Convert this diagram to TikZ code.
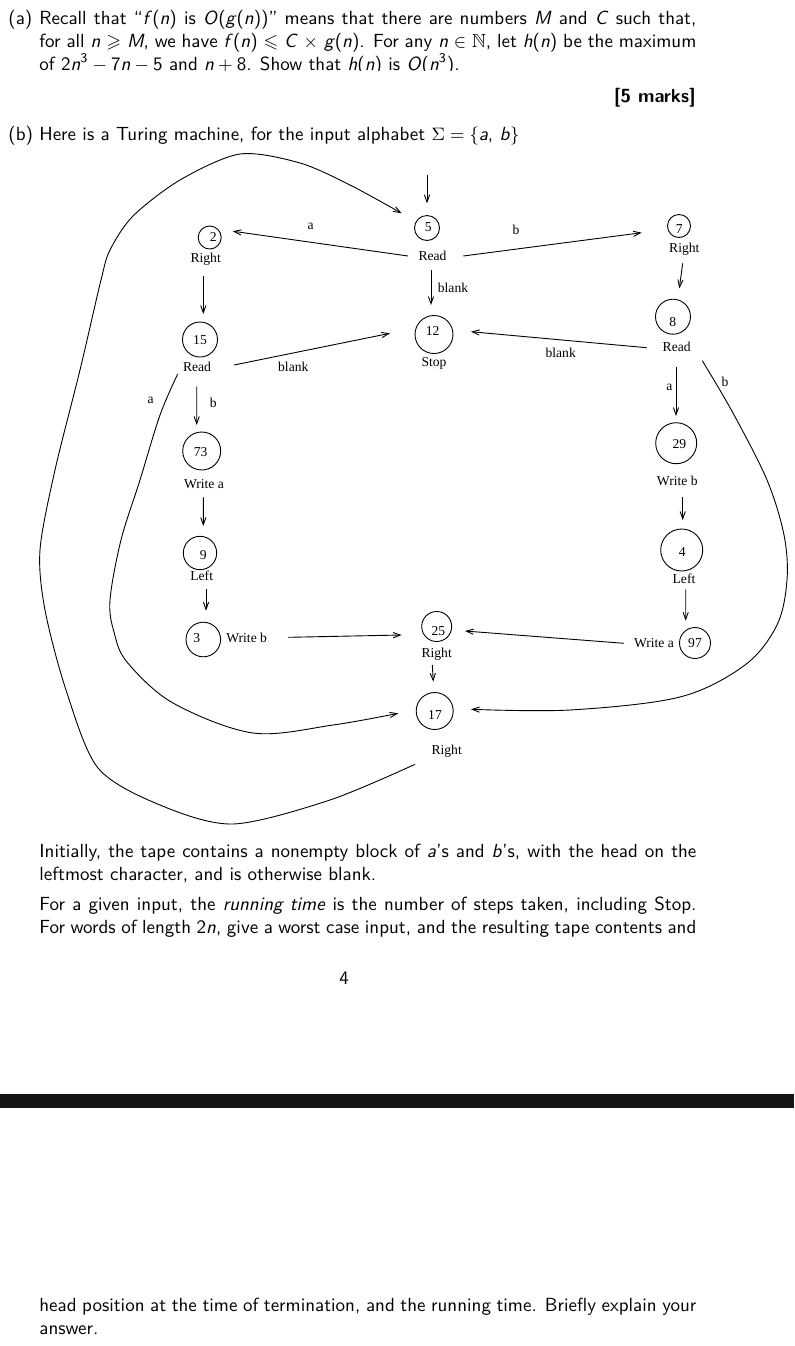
\documentclass[tikz,border=0pt]{standalone}
\usepackage{amssymb}
\usepackage{fontspec}
\newfontfamily\tmfont{Liberation Serif}
\usetikzlibrary{arrows.meta}
\newcommand\mv[1]{\textit{#1}}
\begin{document}
\begin{tikzpicture}[x=0.5pt,y=-0.5pt,
  st/.style={circle,draw,line width=0.45pt,inner sep=0pt},
  tm/.style={font=\tmfont\fontsize{6.8}{8}\selectfont,inner sep=0pt},
  arr/.style={line width=0.45pt,-{Straight Barb[length=3.6pt,width=2.6pt]}},
  para/.style={font=\sffamily\fontsize{9.5}{11.4}\selectfont,inner sep=0pt,anchor=base west}]
\useasboundingbox (0,0) rectangle (794,1346);
% ---------- text (a) ----------
\node[para] (pa) at (8,24.5) {(a)};
\node[para] (a1) at (39,24.5) {\makebox[328.5pt][s]{Recall that “\mv{f}(\mv{n}) is \mv{O}(\mv{g}(\mv{n}))” means that there are numbers \mv{M} and \mv{C} such that,}};
\node[para] (a2) at (39,47.5) {\makebox[328.5pt][s]{for all \mv{n} $\geqslant$ \mv{M}, we have \mv{f}(\mv{n}) $\leqslant$ \mv{C} $\times$ \mv{g}(\mv{n}). For any \mv{n} $\in$ $\mathbb{N}$, let \mv{h}(\mv{n}) be the maximum}};
\node[para] (a3) at (39,70.5) {of 2\mv{n}\textsuperscript{3}\hspace{0.22em}$-$\hspace{0.22em}7\mv{n}\hspace{0.22em}$-$\hspace{0.22em}5 and \mv{n}\hspace{0.22em}$+$\hspace{0.22em}8. Show that \mv{h}(\mv{n}) is \mv{O}(\mv{n}\textsuperscript{3}).};
\fill[white] (0,71) rectangle (794,84);
\node[para,anchor=base east] (marks) at (696,102) {\textbf{[5 marks]}};
\node[para] (pb) at (8,140) {(b) Here is a Turing machine, for the input alphabet $\Sigma=\{$\mv{a}, \mv{b}$\}$};
% ---------- circles ----------
\node[st,minimum size=11.5pt] (c2) at (209.7,237.5) {};
\node[st,minimum size=12.5pt] (c5) at (427,228) {};
\node[st,minimum size=11.5pt] (c7) at (679,226) {};
\node[st,minimum size=17.5pt] (c8) at (673,316.7) {};
\node[st,minimum size=19pt] (c12) at (434,334.5) {};
\node[st,minimum size=17.5pt] (c15) at (200,339.5) {};
\node[st,minimum size=19pt] (c73) at (201.7,451) {};
\node[st,minimum size=16.7pt] (c9) at (200,553) {};
\node[st,minimum size=17.3pt] (c3) at (203.3,639.5) {};
\node[st,minimum size=15pt] (c25) at (436.7,626.5) {};
\node[st,minimum size=18.5pt] (c17) at (434.7,711) {};
\node[st,minimum size=20.5pt] (c29) at (676.2,443.2) {};
\node[st,minimum size=21pt] (c4) at (681.7,550) {};
\node[st,minimum size=15.5pt] (c97) at (695,643) {};
% ---------- numbers ----------
\node[tm] (n2) at (213.3,237.3) {2};
\node[tm] (n5) at (428.3,227) {5};
\node[tm] (n7) at (679.3,229.3) {7};
\node[tm] (n8) at (672.7,321.7) {8};
\node[tm] (n12) at (432.7,330.7) {12};
\node[tm] (n15) at (200,340) {15};
\node[tm] (n73) at (200.7,451.7) {73};
\node[tm] (n9) at (203.3,555) {9};
\node[tm] (n3) at (196.7,638.3) {3};
\node[tm] (n25) at (438.3,630.7) {25};
\node[tm] (n17) at (435,715) {17};
\node[tm] (n29) at (679.3,444) {29};
\node[tm] (n4) at (682.3,551.7) {4};
\node[tm] (n97) at (695,643.3) {97};
% ---------- state labels ----------
\node[tm] (l2) at (205.7,259.3) {Right};
\node[tm] (l5) at (432.5,256) {Read};
\node[tm] (l7) at (684.3,249.3) {Right};
\node[tm] (l8) at (676.7,347.3) {Read};
\node[tm] (l12) at (434,363) {Stop};
\node[tm] (l15) at (197,366.7) {Read};
\node[tm] (l73) at (204,484) {Write a};
\node[tm] (l9) at (201.7,576) {Left};
\node[tm] (l3) at (246.7,638.3) {Write b};
\node[tm] (l25) at (436.7,654) {Right};
\node[tm] (l17) at (446.7,751.7) {Right};
\node[tm] (l29) at (677.3,480.7) {Write b};
\node[tm] (l4) at (684,578.3) {Left};
\node[tm] (l97) at (654,643.3) {Write a};
% ---------- edge labels ----------
\node[tm] (e52) at (310.7,226.7) {a};
\node[tm] (e57) at (516,230) {b};
\node[tm] (e512) at (453,288) {blank};
\node[tm] (e1512) at (293.3,366.7) {blank};
\node[tm] (e812) at (560.7,353.3) {blank};
\node[tm] (e829) at (669.3,387.3) {a};
\node[tm] (e817) at (725,381.7) {b};
\node[tm] (e1517) at (150.7,400.5) {a};
\node[tm] (e1573) at (213.3,403.3) {b};
% ---------- straight edges ----------
\coordinate (init) at (427,175);
\draw[arr] (init) -- ([shift={(0,-24.7)}]c5.center);
\draw[arr] ([shift={(-24.5,0)}]l5.center) -- ([shift={(23,-6.3)}]c2.center);
\draw[arr] ([shift={(30.8,0)}]l5.center) -- ([shift={(-37.3,6.7)}]c7.center);
\draw[arr] ([shift={(-1.5,14)}]l5.center) -- ([shift={(-3,-29.5)}]c12.center);
\draw[arr] ([shift={(-2.4,16.7)}]l2.center) -- ([shift={(3.3,-25.5)}]c15.center);
\draw[arr] ([shift={(37,-1.7)}]l15.center) -- ([shift={(-44,-1.2)}]c12.center);
\draw[arr] ([shift={(-1.6,14)}]l7.center) -- ([shift={(6.3,-28.4)}]c8.center);
\draw[arr] ([shift={(-30,0.4)}]l8.center) -- ([shift={(37,-2.8)}]c12.center);
\draw[arr] ([shift={(-0.7,20)}]l8.center) -- ([shift={(-0.2,-27.2)}]c29.center);
\draw[arr] ([shift={(-0.3,20)}]l15.center) -- ([shift={(-5,-26)}]c73.center);
\draw[arr] ([shift={(-0.7,13.3)}]l73.center) -- ([shift={(3.3,-27)}]c9.center);
\draw[arr] ([shift={(4.3,13.3)}]l9.center) -- ([shift={(2.7,-28.8)}]c3.center);
\draw[arr] ([shift={(41.6,-1)}]l3.center) -- ([shift={(-35,8.5)}]c25.center);
\draw[arr] ([shift={(5.4,16.6)}]l29.center) -- ([shift={(1,-30)}]c4.center);
\draw[arr] ([shift={(1.7,11)}]l4.center) -- ([shift={(-9.3,-22.3)}]c97.center);
\draw[arr] ([shift={(-30,0)}]l97.center) -- ([shift={(28.3,4.5)}]c25.center);
\draw[arr] ([shift={(-4.4,11)}]l25.center) -- ([shift={(-1.4,-29.3)}]c17.center);
% ---------- curved edges ----------
\draw[arr] plot[smooth,tension=0.55] coordinates {([shift={(-19.3,7.3)}]l15.center) (160,415) (140,480) (121,540) (110,600) (114,632) (127,662) (173,703) (253,733) (333,725) ([shift={(-36.4,2.3)}]c17.center)};
\draw[arr] plot[smooth,tension=0.55] coordinates {([shift={(25.6,13.4)}]l8.center) (733,413) (767,480) (784,535) (787,580) (777,625) (745,665) (680,697) (570,710) ([shift={(36.3,-1.7)}]c17.center)};
\draw[arr] plot[smooth,tension=0.5] coordinates {([shift={(-31.7,12.6)}]l17.center) (330,800) (233,824) (160,805) (98,768) (66,690) (45,610) (40,550) (55,470) (80,370) (101,280) (110,250) (133,216) (180,180) (240,154) (300,163) (350,185) ([shift={(-25.3,-14.7)}]c5.center)};
% ---------- lower text ----------
\node[para] (i1) at (39,857) {\makebox[328.5pt][s]{Initially, the tape contains a nonempty block of \mv{a}’s and \mv{b}’s, with the head on the}};
\node[para] (i2) at (39,880) {leftmost character, and is otherwise blank.};
\node[para] (f1) at (39,910) {\makebox[328.5pt][s]{For a given input, the \textit{running time} is the number of steps taken, including Stop.}};
\node[para] (f2) at (39,933) {\makebox[328.5pt][s]{For words of length 2\mv{n}, give a worst case input, and the resulting tape contents and}};
\node[para,anchor=base] (pg) at (344,984) {4};
\fill[black!92] (0,1094) rectangle (794,1108);
\node[para] (h1) at (39,1311) {\makebox[328.5pt][s]{head position at the time of termination, and the running time. Briefly explain your}};
\node[para] (h2) at (39,1334) {answer.};
\end{tikzpicture}
\end{document}
